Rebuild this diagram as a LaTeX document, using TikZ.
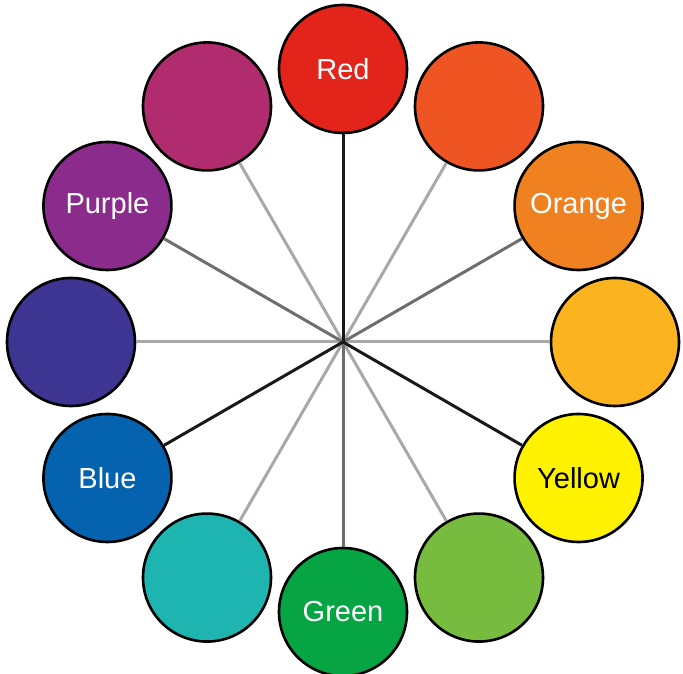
\documentclass[tikz,border=0pt]{standalone}
\usepackage{fontspec}
\setmainfont{Liberation Sans}
\usetikzlibrary{calc}
\definecolor{cRed}{HTML}{E3241B}
\definecolor{cRedOrange}{HTML}{EE5523}
\definecolor{cOrange}{HTML}{F08121}
\definecolor{cYellowOrange}{HTML}{FBB31F}
\definecolor{cYellow}{HTML}{FFF200}
\definecolor{cYellowGreen}{HTML}{77BC3F}
\definecolor{cGreen}{HTML}{06A443}
\definecolor{cTeal}{HTML}{1EB5B0}
\definecolor{cBlue}{HTML}{0462AE}
\definecolor{cBlueViolet}{HTML}{3D3591}
\definecolor{cPurple}{HTML}{8B2C8C}
\definecolor{cRedViolet}{HTML}{B12C6E}
\definecolor{lineMid}{HTML}{6E6E6E}
\definecolor{lineLight}{HTML}{A8A8A8}
\begin{document}
\begin{tikzpicture}[x=1pt,y=1pt,
  swatch/.style={circle,draw=black,line width=2.6pt,minimum size=128pt,inner sep=0pt,
    font=\fontsize{29}{32}\selectfont,text=white},
  primaryline/.style={draw=black!90,line width=3pt},
  secondaryline/.style={draw=lineMid,line width=3pt},
  tertiaryline/.style={draw=lineLight,line width=3pt}]
\useasboundingbox (0,0) rectangle (683,674);
\coordinate (c) at (343,332);
\node[swatch,fill=cRed]          (n0)  at ($(c)+(90:273)$)  {Red};
\node[swatch,fill=cRedOrange]    (n1)  at ($(c)+(60:272)$)  {};
\node[swatch,fill=cOrange]       (n2)  at ($(c)+(30:272)$)  {Orange};
\node[swatch,fill=cYellowOrange] (n3)  at ($(c)+(0:272)$)   {};
\node[swatch,fill=cYellow,text=black] (n4) at ($(c)+(-30:272)$) {Yellow};
\node[swatch,fill=cYellowGreen]  (n5)  at ($(c)+(-60:272)$) {};
\node[swatch,fill=cGreen]        (n6)  at ($(c)+(-90:270)$) {Green};
\node[swatch,fill=cTeal]         (n7)  at ($(c)+(-120:272)$) {};
\node[swatch,fill=cBlue]         (n8)  at ($(c)+(-150:272)$) {Blue};
\node[swatch,fill=cBlueViolet]   (n9)  at ($(c)+(180:272)$) {};
\node[swatch,fill=cPurple]       (n10) at ($(c)+(150:272)$) {Purple};
\node[swatch,fill=cRedViolet]    (n11) at ($(c)+(120:272)$) {};
\foreach \i in {1,3,5,7,9,11} \draw[tertiaryline] (c) -- (n\i);
\foreach \i in {2,6,10} \draw[secondaryline] (c) -- (n\i);
\foreach \i in {0,4,8} \draw[primaryline] (c) -- (n\i);
\end{tikzpicture}
\end{document}
